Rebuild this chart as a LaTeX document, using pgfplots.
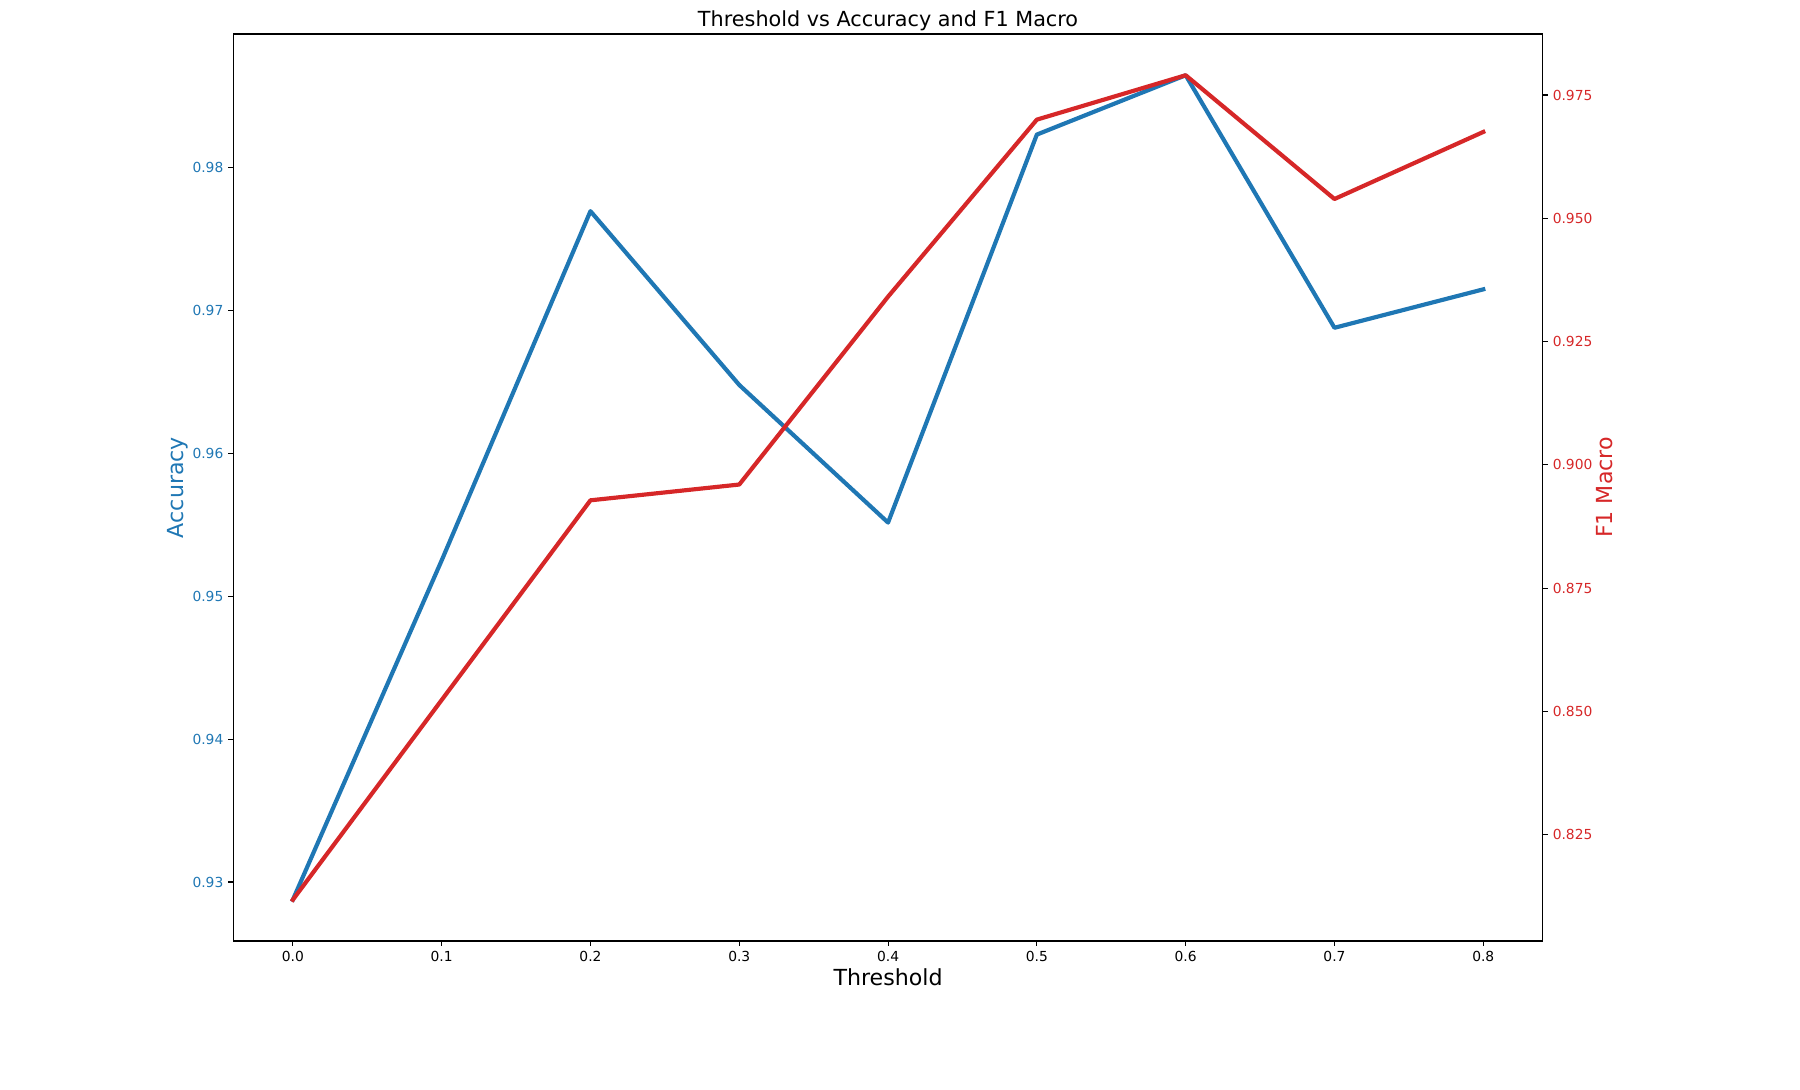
\documentclass[border=0pt]{standalone}
\usepackage{fontspec}
\setmainfont{DejaVu Sans}
\usepackage{pgfplots}
\pgfplotsset{compat=1.18}

\definecolor{tabblue}{RGB}{31,119,180}
\definecolor{tabred}{RGB}{214,39,40}

% accuracy and f1 against threshold
\pgfplotstableread{
thr acc f1
0.0 0.92876 0.8118
0.1 0.95250 0.8523
0.2 0.97694 0.8928
0.3 0.96478 0.8960
0.4 0.95515 0.9341
0.5 0.98230 0.9700
0.6 0.98645 0.9790
0.7 0.96878 0.9539
0.8 0.97147 0.9675
}\datatable

\pgfplotsset{
  common/.style={
    scale only axis,
    width=942.8bp, height=653bp,
    at={(168bp,107.3bp)}, anchor=south west,
    xmin=-0.04, xmax=0.84,
    axis line style={line width=0.8bp},
    tick style={line width=0.8bp, black},
    tick align=outside,
    major tick length=3.5bp,
    minor tick num=0,
    scaled ticks=false,
    /pgf/number format/assume math mode=true,
    ticklabel style={font=\fontsize{10}{12}\selectfont, inner sep=0pt},
    label style={font=\fontsize{16}{19}\selectfont},
  },
}

\begin{document}
\begin{tikzpicture}
\useasboundingbox (0,0) rectangle (1296bp,784.8bp);

\begin{axis}[
  common,
  ymin=0.925876, ymax=0.989335,
  tick pos=left,
  xtick={0,0.1,0.2,0.3,0.4,0.5,0.6,0.7,0.8},
  ytick={0.93,0.94,0.95,0.96,0.97,0.98},
  xticklabel style={anchor=north, yshift=-3.5bp,
    /pgf/number format/.cd, fixed, fixed zerofill, precision=1},
  yticklabel style={anchor=east, xshift=-3.5bp, text=tabblue,
    /pgf/number format/.cd, fixed, fixed zerofill, precision=2},
  xlabel={Threshold},
  xlabel style={at={(axis description cs:0.5,-0.0496)}, anchor=base},
  ylabel={Accuracy},
  ylabel style={at={(axis description cs:-0.0382,0.5)}, anchor=base, text=tabblue},
  title={Threshold vs Accuracy and F1 Macro},
  every axis title shift=0pt,
  title style={at={(axis description cs:0.5,1.008)}, anchor=base,
    font=\fontsize{15}{18}\selectfont},
]
\addplot[tabblue, line width=3bp, line join=round, line cap=rect] table[x=thr, y=acc] {\datatable};
\end{axis}

\begin{axis}[
  common,
  ymin=0.80344, ymax=0.98736,
  axis x line=none,
  axis y line*=right,
  ytick={0.825,0.85,0.875,0.9,0.925,0.95,0.975},
  yticklabel style={anchor=west, xshift=3.5bp, text=tabred,
    /pgf/number format/.cd, fixed, fixed zerofill, precision=3},
  ylabel={F1 Macro},
  ylabel style={at={(axis description cs:1.053,0.5)}, anchor=base, rotate=0, text=tabred},
]
\addplot[tabred, line width=3bp, line join=round, line cap=rect] table[x=thr, y=f1] {\datatable};
\end{axis}
\end{tikzpicture}
\end{document}
